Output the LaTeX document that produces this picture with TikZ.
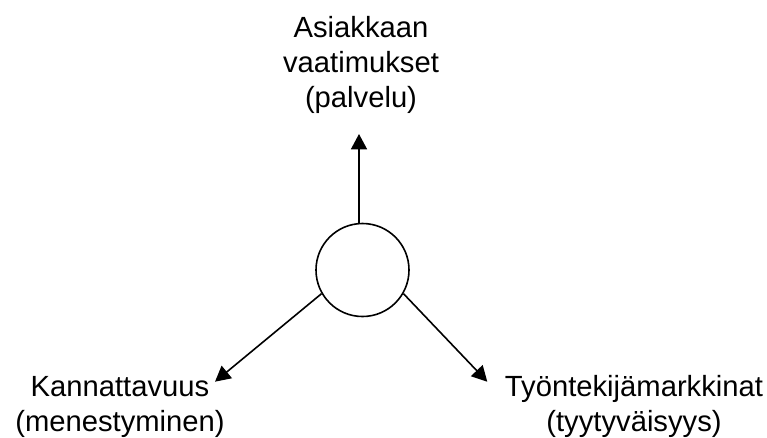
\documentclass[tikz,border=0pt]{standalone}
\usepackage{fontspec}
\setmainfont{Liberation Sans}
\usetikzlibrary{arrows.meta}
\begin{document}
\begin{tikzpicture}[x=0.75pt,y=-0.75pt,
  label text/.style={font=\fontsize{21.9pt}{26.25pt}\selectfont, align=center, inner sep=0pt, anchor=base},
  hub/.style={draw, circle, line width=1.2pt, minimum size=69.75pt, inner sep=0pt},
  link/.style={line width=1.2pt, -{Triangle[width=12pt,length=11.5pt]}}]
  \useasboundingbox (0,0) rectangle (767,437);
  % central circle
  \node[hub] (c) at (362.5,270) {};
  % the three goals (anchored at the baseline of the last line)
  \node[label text] (top) at (361,107) {Asiakkaan\\vaatimukset\\(palvelu)};
  \node[label text] (left) at (120,431) {Kannattavuus\\(menestyminen)};
  \node[label text] (right) at (634,431) {Työntekijämarkkinat\\(tyytyväisyys)};
  % arrow tips
  \coordinate (tipT) at (359,134);
  \coordinate (tipL) at (215,381.7);
  \coordinate (tipR) at (487.3,381.7);
  \draw[link] (c.north -| tipT) -- (tipT);
  \draw[link] (c.210) -- (tipL);
  \draw[link] (c.-30) -- (tipR);
\end{tikzpicture}
\end{document}
